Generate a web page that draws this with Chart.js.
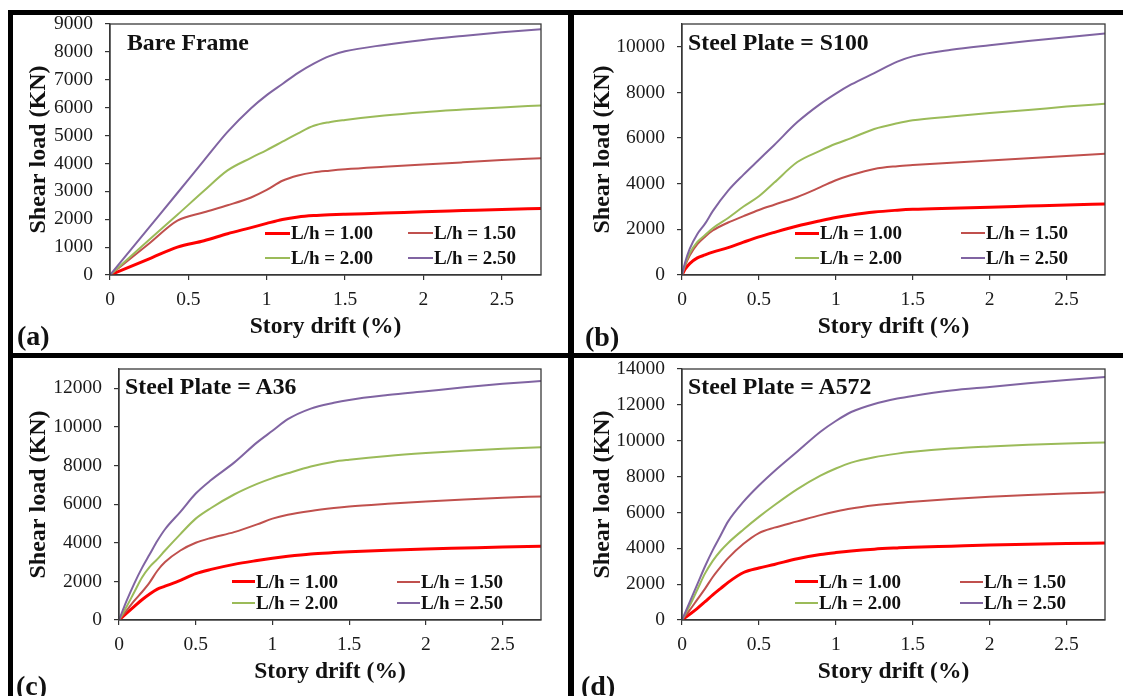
<!DOCTYPE html>
<html>
<head>
<meta charset="utf-8">
<script src="https://cdn.jsdelivr.net/npm/chart.js@4.4.0/dist/chart.umd.min.js"></script>
<style>
  body { margin: 0; background: #fff; }
  #wrap { position: relative; width: 1123px; height: 696px; overflow: hidden;
          font-family: "Liberation Serif", "Times New Roman", serif; color: #111; }
  #wrap canvas { position: absolute; }
  .bar { position: absolute; background: #000; z-index: 5; }
  .txt { position: absolute; font-weight: bold; white-space: nowrap; line-height: 1; z-index: 4; }
  .leg { position: absolute; height: 20px; line-height: 20px; display: flex; align-items: center;
         font-weight: bold; font-size: 19px; white-space: nowrap; z-index: 4; }
  .leg .ln { display: inline-block; margin-right: 1px; }
</style>
</head>
<body>
<div id="wrap"></div>
<script>
// Data: story drift (%) vs shear load (KN)
const seriesLabels = ['L/h = 1.00', 'L/h = 1.50', 'L/h = 2.00', 'L/h = 2.50'];
const xTicks = [0, 0.5, 1, 1.5, 2, 2.5];

// (a) Bare frame
const driftA = [0, 0.25, 0.43, 0.6, 0.75, 0.9, 1.0, 1.1, 1.2, 1.3, 1.4, 1.5, 1.75, 2.0, 2.25, 2.5, 2.75];
const bareL100 = [0, 580, 1000, 1230, 1480, 1700, 1850, 1990, 2080, 2130, 2160, 2180, 2220, 2270, 2310, 2350, 2385];
const bareL150 = [0, 1130, 1950, 2250, 2500, 2780, 3050, 3380, 3570, 3680, 3740, 3790, 3880, 3960, 4040, 4120, 4190];
const bareL200 = [0, 1260, 2160, 3020, 3750, 4200, 4480, 4780, 5080, 5350, 5480, 5560, 5720, 5840, 5930, 6010, 6080];
const bareL250 = [0, 1710, 2940, 4110, 5130, 5980, 6450, 6850, 7250, 7580, 7850, 8020, 8250, 8430, 8570, 8700, 8810];
const yTicksA = [0, 1000, 2000, 3000, 4000, 5000, 6000, 7000, 8000, 9000];

// (b) Steel plate S100
const driftB = [0, 0.02, 0.05, 0.1, 0.15, 0.2, 0.3, 0.4, 0.5, 0.6, 0.75, 0.9, 1.0, 1.1, 1.25, 1.4, 1.5, 1.75, 2.0, 2.25, 2.5, 2.75];
const s100L100 = [0, 250, 500, 750, 880, 1000, 1200, 1440, 1670, 1870, 2150, 2380, 2520, 2630, 2760, 2840, 2880, 2930, 2970, 3020, 3070, 3110];
const s100L150 = [0, 400, 850, 1350, 1680, 1950, 2300, 2580, 2850, 3080, 3420, 3850, 4150, 4380, 4650, 4770, 4820, 4920, 5020, 5120, 5220, 5310];
const s100L200 = [0, 450, 950, 1450, 1750, 2050, 2500, 3000, 3450, 4050, 4950, 5450, 5750, 6000, 6400, 6650, 6780, 6950, 7100, 7230, 7380, 7500];
const s100L250 = [0, 550, 1150, 1800, 2250, 2800, 3700, 4400, 5050, 5700, 6700, 7500, 7950, 8350, 8850, 9350, 9580, 9870, 10070, 10250, 10420, 10580];
const yTicksB = [0, 2000, 4000, 6000, 8000, 10000];

// (c) Steel plate A36 and (d) Steel plate A572
const driftCD = [0, 0.05, 0.1, 0.15, 0.2, 0.25, 0.3, 0.4, 0.5, 0.6, 0.75, 0.9, 1.0, 1.1, 1.25, 1.4, 1.5, 1.75, 2.0, 2.25, 2.5, 2.75];
const a36L100 = [0, 350, 700, 1050, 1350, 1600, 1750, 2050, 2400, 2620, 2880, 3080, 3200, 3300, 3420, 3490, 3530, 3610, 3680, 3730, 3780, 3820];
const a36L150 = [0, 500, 1000, 1450, 1950, 2550, 3000, 3600, 4000, 4250, 4550, 4950, 5250, 5450, 5650, 5800, 5880, 6020, 6140, 6240, 6330, 6400];
const a36L200 = [0, 700, 1450, 2200, 2750, 3150, 3600, 4450, 5250, 5800, 6500, 7050, 7350, 7600, 7950, 8200, 8300, 8500, 8650, 8770, 8870, 8950];
const a36L250 = [0, 1000, 1900, 2700, 3400, 4100, 4700, 5600, 6550, 7250, 8150, 9200, 9800, 10400, 10950, 11250, 11400, 11650, 11850, 12050, 12230, 12380];
const yTicksC = [0, 2000, 4000, 6000, 8000, 10000, 12000];

const a572L100 = [0, 320, 650, 1020, 1400, 1750, 2100, 2650, 2900, 3100, 3420, 3650, 3760, 3850, 3950, 4020, 4060, 4120, 4180, 4220, 4260, 4290];
const a572L150 = [0, 550, 1150, 1750, 2400, 2950, 3450, 4250, 4850, 5150, 5500, 5850, 6050, 6220, 6400, 6530, 6600, 6750, 6870, 6970, 7050, 7120];
const a572L200 = [0, 800, 1700, 2600, 3300, 3850, 4300, 5050, 5750, 6400, 7300, 8050, 8450, 8780, 9080, 9280, 9380, 9560, 9680, 9780, 9850, 9900];
const a572L250 = [0, 1000, 2000, 3000, 3900, 4700, 5500, 6600, 7500, 8300, 9400, 10500, 11100, 11600, 12050, 12350, 12500, 12800, 13000, 13200, 13380, 13550];
const yTicksD = [0, 2000, 4000, 6000, 8000, 10000, 12000, 14000];

// Styles
const seriesColors = ['#FF0000', '#C0504D', '#9BBB59', '#8064A2'];
const seriesWidths = [3, 2, 2, 2];
const FONT = '"Liberation Serif", "Times New Roman", serif';

// Panel layout (page pixels)
const panels = [
    { title: 'Bare Frame', letter: '(a)', drift: driftA, values: [bareL100, bareL150, bareL200, bareL250],
      yMax: 9000, yTicks: yTicksA,
      cv: { left: 0, top: 0, w: 570, h: 355 }, area: { l: 110, r: 541, t: 24, b: 275 },
      yTitlePad: 24.6, xTitlePad: 13.9,
      titlePos: [127, 31], letterPos: [17, 321.5],
      legend: { rows: [233.3, 257.7], cols: [265, 408], line: 25 } },
    { title: 'Steel Plate = S100', letter: '(b)', drift: driftB, values: [s100L100, s100L150, s100L200, s100L250],
      yMax: 11000, yTicks: yTicksB,
      cv: { left: 575, top: 0, w: 548, h: 355 }, area: { l: 682, r: 1105, t: 24, b: 275 },
      yTitlePad: 13.6, xTitlePad: 13.9,
      titlePos: [688, 31], letterPos: [585, 322.5],
      legend: { rows: [233.3, 257.7], cols: [795, 961], line: 24 } },
    { title: 'Steel Plate = A36', letter: '(c)', drift: driftCD, values: [a36L100, a36L150, a36L200, a36L250],
      yMax: 13000, yTicks: yTicksC,
      cv: { left: 0, top: 340, w: 570, h: 356 }, area: { l: 119, r: 541, t: 369, b: 620 },
      yTitlePad: 24.6, xTitlePad: 9.9,
      titlePos: [125, 375], letterPos: [16, 671.5],
      legend: { rows: [581.7, 603.3], cols: [232, 397], line: 23 } },
    { title: 'Steel Plate = A572', letter: '(d)', drift: driftCD, values: [a572L100, a572L150, a572L200, a572L250],
      yMax: 14000, yTicks: yTicksD,
      cv: { left: 575, top: 340, w: 548, h: 356 }, area: { l: 682, r: 1105, t: 369, b: 620 },
      yTitlePad: 13.6, xTitlePad: 9.9,
      titlePos: [688, 375], letterPos: [581, 671.5],
      legend: { rows: [581.7, 603.3], cols: [795, 960], line: 23 } }
];

// Plot frame around the chart area
const framePlugin = {
    id: 'frame',
    afterDatasetsDraw(chart) {
        const { ctx, chartArea: a } = chart;
        ctx.save();
        ctx.strokeStyle = '#3a3a3a';
        ctx.lineWidth = 1.3;
        ctx.strokeRect(a.left, a.top, a.right - a.left, a.bottom - a.top);
        ctx.restore();
    }
};

const wrap = document.getElementById('wrap');

function addText(text, x, y, size) {
    const d = document.createElement('div');
    d.className = 'txt';
    d.style.left = x + 'px';
    d.style.top = y + 'px';
    d.style.fontSize = size + 'px';
    d.textContent = text;
    wrap.appendChild(d);
    return d;
}

function buildPanel(p) {
    const canvas = document.createElement('canvas');
    canvas.width = p.cv.w;
    canvas.height = p.cv.h;
    canvas.style.left = p.cv.left + 'px';
    canvas.style.top = p.cv.top + 'px';
    canvas.style.width = p.cv.w + 'px';
    canvas.style.height = p.cv.h + 'px';
    wrap.appendChild(canvas);

    const datasets = p.values.map((vals, i) => ({
        label: seriesLabels[i],
        data: p.drift.map((x, j) => ({ x: x, y: vals[j] })),
        borderColor: seriesColors[i],
        borderWidth: seriesWidths[i],
        pointRadius: 0,
        fill: false,
        cubicInterpolationMode: 'monotone'
    })).reverse();

    const tickFont = { family: FONT, size: 19.5 };

    new Chart(canvas.getContext('2d'), {
        type: 'line',
        data: { datasets: datasets },
        plugins: [framePlugin],
        options: {
            responsive: false,
            animation: false,
            layout: {
                padding: {
                    left: 0,
                    top: p.area.t - p.cv.top,
                    right: p.cv.left + p.cv.w - p.area.r,
                    bottom: 0
                }
            },
            plugins: { legend: { display: false }, tooltip: { enabled: false } },
            scales: {
                x: {
                    type: 'linear',
                    min: 0,
                    max: 2.75,
                    afterBuildTicks: ax => { ax.ticks = xTicks.map(v => ({ value: v })); },
                    afterFit: s => { s.height = p.cv.top + p.cv.h - p.area.b; },
                    ticks: { font: tickFont, color: '#1a1a1a', padding: 8, maxRotation: 0,
                             callback: v => String(v) },
                    grid: { drawOnChartArea: false, tickLength: 5, color: '#333', lineWidth: 1.2 },
                    border: { color: '#333', width: 1.3 },
                    title: { display: true, text: 'Story drift (%)', font: { family: FONT, size: 23.5, weight: 'bold' },
                             color: '#111', padding: { top: 0, bottom: p.xTitlePad } }
                },
                y: {
                    min: 0,
                    max: p.yMax,
                    afterBuildTicks: ax => { ax.ticks = p.yTicks.map(v => ({ value: v })); },
                    afterFit: s => { s.width = p.area.l - p.cv.left; },
                    ticks: { font: tickFont, color: '#1a1a1a', padding: 12, callback: v => String(v) },
                    grid: { drawOnChartArea: false, tickLength: 5, color: '#333', lineWidth: 1.2 },
                    border: { color: '#333', width: 1.3 },
                    title: { display: true, text: 'Shear load (KN)', font: { family: FONT, size: 24, weight: 'bold' },
                             color: '#111', padding: { top: p.yTitlePad, bottom: 0 } }
                }
            }
        }
    });

    addText(p.title, p.titlePos[0], p.titlePos[1], 23.8);
    addText(p.letter, p.letterPos[0], p.letterPos[1], 28);

    // legend: 2 columns x 2 rows
    seriesLabels.forEach((label, i) => {
        const row = Math.floor(i / 2), col = i % 2;
        const item = document.createElement('div');
        item.className = 'leg';
        item.style.left = p.legend.cols[col] + 'px';
        item.style.top = (p.legend.rows[row] - 10) + 'px';
        const ln = document.createElement('span');
        ln.className = 'ln';
        ln.style.width = p.legend.line + 'px';
        ln.style.height = seriesWidths[i] + 'px';
        ln.style.background = seriesColors[i];
        item.appendChild(ln);
        item.appendChild(document.createTextNode(label));
        wrap.appendChild(item);
    });
}

panels.forEach(buildPanel);

// Black panel separators
[[8, 10, 1115, 5], [8, 10, 5, 686], [568, 10, 6, 686], [8, 353, 1115, 5]].forEach(b => {
    const d = document.createElement('div');
    d.className = 'bar';
    d.style.left = b[0] + 'px';
    d.style.top = b[1] + 'px';
    d.style.width = b[2] + 'px';
    d.style.height = b[3] + 'px';
    wrap.appendChild(d);
});
</script>
</body>
</html>
